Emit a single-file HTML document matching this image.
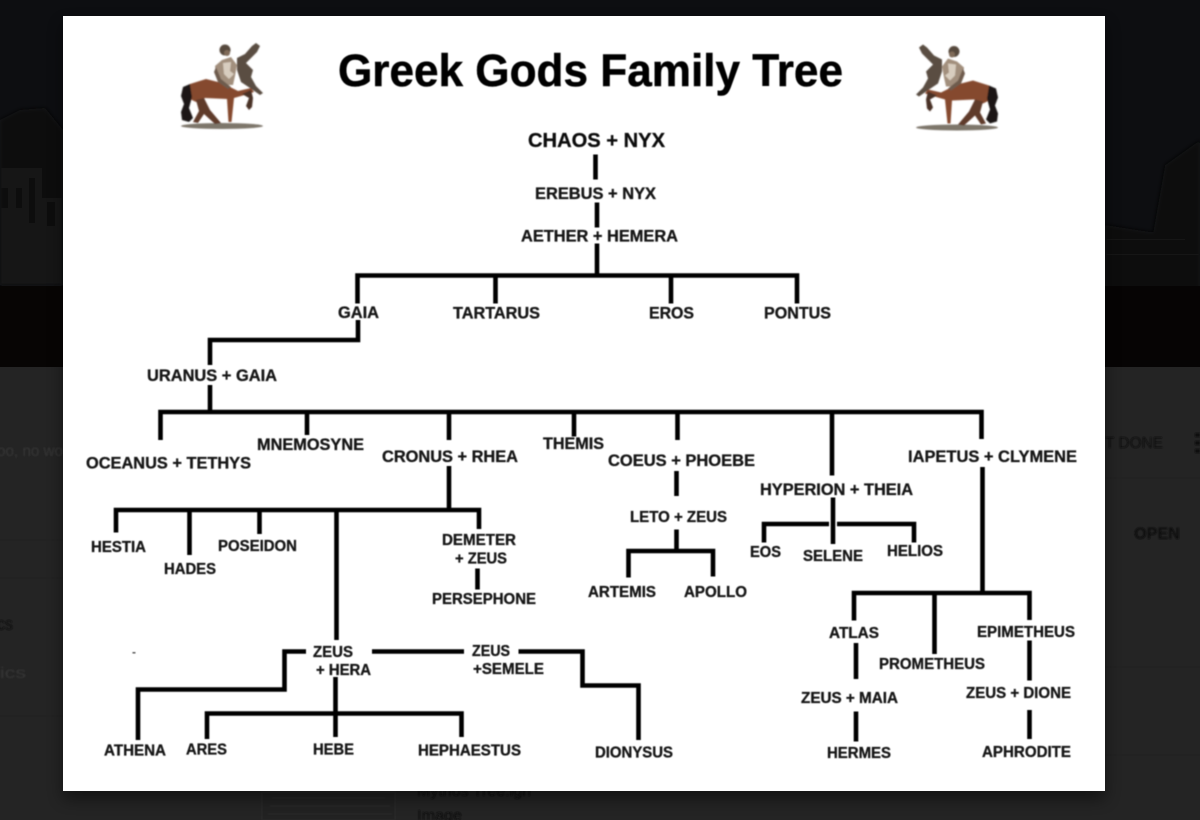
<!DOCTYPE html>
<html>
<head>
<meta charset="utf-8">
<style>
html,body{margin:0;padding:0;background:#232323;}
body{width:1200px;height:820px;overflow:hidden;position:relative;font-family:"Liberation Sans",sans-serif;}
svg{position:absolute;left:0;top:0;display:block;}
</style>
</head>
<body>
<svg width="1200" height="820" viewBox="0 0 1200 820" xmlns="http://www.w3.org/2000/svg">
<defs>
<filter id="b1" x="-5%" y="-5%" width="110%" height="110%"><feGaussianBlur stdDeviation="0.5"/></filter>
<filter id="b2" x="-10%" y="-10%" width="120%" height="120%"><feGaussianBlur stdDeviation="0.8"/></filter>
<filter id="b3" x="-10%" y="-10%" width="120%" height="120%"><feGaussianBlur stdDeviation="2"/></filter>
<filter id="sh" x="-10%" y="-10%" width="120%" height="120%"><feGaussianBlur stdDeviation="8"/></filter>
<g id="centaur">
  <ellipse cx="222" cy="126" rx="41" ry="3" fill="#7d766b"/>
  <path d="M237 58 L245 54 L252 46 L256 43 L260 46 L257 52 L250 59 L246 63 L253 70 L251 77 L256 86 L263 93 L260 95 L250 88 L241 82 L237 70Z" fill="#5a4d42"/>
  <path d="M190 84 L206 79 L222 83 L238 91 L251 88 L254 92 L241 96 L234 98 L231.5 122 L228.5 122 L227 99 L205 98 L196 102 L188 98Z" fill="#85492e"/>
  <path d="M196 100 L204 98 L210 110 L221 123 L215 124 L204 114 L198 123 L193 122 L199 111Z" fill="#5e3a2b"/>
  <path d="M242 94 L251 90 L253 98 L252 107 L249 110 L246 106 L249 98Z" fill="#4a3328"/>
  <path d="M190 84 L183 87 L181 96 L184 104 L181 112 L182 120 L189 122 L193 118 L189 108 L192 97Z" fill="#1d1916"/>
  <path d="M215 66 L222 60 L231 57 L237 65 L235 76 L233 85 L224 85 L217 78Z" fill="#a28f7d"/>
  <path d="M223 63 L231 62 L230 71 L234 74 L229 79 L224 74Z" fill="#d8cdbf"/>
  <path d="M216 67 L221 79 L231 87 L228 89 L218 82 L214 72Z" fill="#6e5b4d"/>
  <circle cx="225" cy="50" r="5.5" fill="#574a3e"/>
  <circle cx="227" cy="53" r="3" fill="#7f6a58"/>
</g>
</defs>

<!-- page background -->
<rect x="0" y="0" width="1200" height="367" fill="#0d0e11"/>
<g filter="url(#b3)">
  <path d="M0 120 L20 110 L45 108 L63 130 L63 285 L0 285Z" fill="#110f0d"/>
  <path d="M0 168 L42 168 L42 198 L63 198 L63 285 L0 285Z" fill="#181613"/>
  <rect x="3" y="188" width="5" height="20" fill="#0c0b09"/>
  <rect x="16" y="188" width="6" height="20" fill="#0c0b09"/>
  <rect x="29" y="178" width="6" height="45" fill="#0c0b09"/>
  <rect x="47" y="202" width="8" height="24" fill="#0c0b09"/>
  <path d="M1105 225 L1200 240 L1200 290 L1105 290Z" fill="#0e0d0c"/>
  <path d="M1150 250 L1165 165 L1200 140 L1200 255Z" fill="#070807"/>
  <rect x="1105" y="238" width="80" height="3" fill="#141413"/>
  <rect x="1105" y="253" width="95" height="3" fill="#151514"/>
</g>
<rect x="0" y="286" width="63" height="81" fill="#070504"/>
<rect x="1105" y="286" width="95" height="81" fill="#060404"/>
<rect x="0" y="367" width="1200" height="453" fill="#242424"/>
<g stroke="#212121" stroke-width="1" fill="none">
  <path d="M0 540 H63 M0 578 H63 M0 716 H63 M1105 478 H1200 M1105 667 H1200 M1105 755 H1200"/>
</g>
<g filter="url(#b2)" font-family="'Liberation Sans',sans-serif">
  <text x="-3" y="456" font-size="16" fill="#353535" textLength="66" lengthAdjust="spacingAndGlyphs">oo, no wo</text>
  <text x="-3" y="630" font-size="18" fill="#0f0f0f" textLength="16" lengthAdjust="spacingAndGlyphs">cs</text>
  <text x="-12" y="678" font-size="16" fill="#353535" textLength="38" lengthAdjust="spacingAndGlyphs">pics</text>
  <text x="1105" y="448" font-size="16" fill="#0d0d0d" textLength="58" lengthAdjust="spacingAndGlyphs">T DONE</text>
  <text x="1134" y="539" font-size="17" font-weight="bold" fill="#0d0d0d" textLength="46" lengthAdjust="spacingAndGlyphs">OPEN</text>
  <text x="417" y="796" font-size="15" fill="#0a0a0a" textLength="114" lengthAdjust="spacingAndGlyphs">Mythos Tree.lgn</text>
  <text x="417" y="820" font-size="15" fill="#0a0a0a" textLength="45" lengthAdjust="spacingAndGlyphs">Image</text>
  <rect x="1195" y="433" width="5" height="4" fill="#111"/>
  <rect x="1195" y="441" width="5" height="4" fill="#111"/>
  <rect x="1195" y="449" width="5" height="4" fill="#111"/>
  <path d="M262 792 H395 V820 H262Z M272 798 H385 M270 806 H390 M268 814 H392" fill="#202020" stroke="#2a2a2a" stroke-width="1"/>
</g>

<!-- modal -->
<rect x="63" y="24" width="1042" height="775" fill="#000" opacity="0.45" filter="url(#sh)"/>
<rect x="63" y="16" width="1042" height="775" fill="#ffffff"/>

<use href="#centaur" filter="url(#b2)"/>
<use href="#centaur" transform="translate(1179 1.5) scale(-1 1)" filter="url(#b2)"/>

<g filter="url(#b1)">
<!-- connectors -->
<g fill="none" stroke="#050505" stroke-width="4.6" stroke-linejoin="miter">
  <path d="M595.5 154.5 V179.5"/>
  <path d="M597 202.5 V227.5"/>
  <path d="M597 243.5 V275"/>
  <path d="M357.5 303.5 V275.5 H797 V303.5"/>
  <path d="M495.5 275.5 V303.5"/>
  <path d="M671 275.5 V303.5"/>
  <path d="M358 320 V340 H210 V365"/>
  <path d="M210 385 V412"/>
  <path d="M160.5 440 V412 H981.5 V439"/>
  <path d="M307 412 V435"/>
  <path d="M449 412 V440"/>
  <path d="M574 412 V436.5"/>
  <path d="M677.5 412 V440"/>
  <path d="M832 412 V475.5"/>
  <path d="M449 466 V510"/>
  <path d="M116 532.5 V510 H479 V529"/>
  <path d="M189.5 510 V555"/>
  <path d="M259.5 510 V534"/>
  <path d="M336.5 510 V640"/>
  <path d="M477.5 568.5 V589.5"/>
  <path d="M676.5 471 V496"/>
  <path d="M676.5 529.5 V551"/>
  <path d="M628.5 577.5 V551 H713 V576.5"/>
  <path d="M833 497.5 V544"/>
  <path d="M764 542.5 V524 H829"/>
  <path d="M837 524 H914 V542.5"/>
  <path d="M982.5 467 V593"/>
  <path d="M854 620.5 V593 H1029.5 V620"/>
  <path d="M934.5 593 V654"/>
  <path d="M856 643 V679"/>
  <path d="M856 711.5 V741.5"/>
  <path d="M1029.5 640.5 V680.5"/>
  <path d="M1029.5 710 V739"/>
  <path d="M306 651.5 H284.5 V689.5 H138 V740"/>
  <path d="M372 651.5 H464"/>
  <path d="M518.5 651.5 H582.5 V685.5 H638.5 V740"/>
  <path d="M335.5 677 V737"/>
  <path d="M207 739 V713.5 H461.5 V737"/>
</g>

<!-- labels -->
<g font-family="'Liberation Sans',Arial,sans-serif" font-weight="bold" fill="#141414" stroke="#141414" stroke-width="0.3" font-size="16.5">
  <text x="338" y="86" font-size="45" fill="#050505" stroke="#050505" stroke-width="0.5" textLength="505" lengthAdjust="spacingAndGlyphs">Greek Gods Family Tree</text>
  <text x="528" y="147" font-size="20.5" fill="#0c0c0c" textLength="137" lengthAdjust="spacingAndGlyphs">CHAOS + NYX</text>
  <text x="535" y="199" textLength="121" lengthAdjust="spacingAndGlyphs">EREBUS + NYX</text>
  <text x="521" y="241.5" textLength="157" lengthAdjust="spacingAndGlyphs">AETHER + HEMERA</text>
  <text x="338" y="318" textLength="41" lengthAdjust="spacingAndGlyphs">GAIA</text>
  <text x="453" y="318.5" textLength="87" lengthAdjust="spacingAndGlyphs">TARTARUS</text>
  <text x="649" y="318.5" textLength="45" lengthAdjust="spacingAndGlyphs">EROS</text>
  <text x="764" y="318.5" textLength="67" lengthAdjust="spacingAndGlyphs">PONTUS</text>
  <text x="147" y="381" textLength="130" lengthAdjust="spacingAndGlyphs">URANUS + GAIA</text>
  <text x="86" y="468.5" font-size="17" textLength="165" lengthAdjust="spacingAndGlyphs">OCEANUS + TETHYS</text>
  <text x="257" y="450" textLength="107" lengthAdjust="spacingAndGlyphs">MNEMOSYNE</text>
  <text x="382" y="462" font-size="17" textLength="136" lengthAdjust="spacingAndGlyphs">CRONUS + RHEA</text>
  <text x="543" y="449" textLength="61" lengthAdjust="spacingAndGlyphs">THEMIS</text>
  <text x="608" y="466" font-size="17" textLength="147" lengthAdjust="spacingAndGlyphs">COEUS + PHOEBE</text>
  <text x="760" y="495" font-size="17" textLength="153" lengthAdjust="spacingAndGlyphs">HYPERION + THEIA</text>
  <text x="908" y="462" font-size="17" textLength="169" lengthAdjust="spacingAndGlyphs">IAPETUS + CLYMENE</text>
  <text x="91" y="552" font-size="15.5" textLength="55" lengthAdjust="spacingAndGlyphs">HESTIA</text>
  <text x="164" y="574" font-size="15.5" textLength="52" lengthAdjust="spacingAndGlyphs">HADES</text>
  <text x="218" y="551" font-size="15.5" textLength="79" lengthAdjust="spacingAndGlyphs">POSEIDON</text>
  <text x="442" y="545" font-size="15.5" textLength="74" lengthAdjust="spacingAndGlyphs">DEMETER</text>
  <text x="455" y="563.5" font-size="15.5" textLength="52" lengthAdjust="spacingAndGlyphs">+ ZEUS</text>
  <text x="432" y="604" font-size="15.5" textLength="104" lengthAdjust="spacingAndGlyphs">PERSEPHONE</text>
  <text x="630" y="522" font-size="15.5" textLength="97" lengthAdjust="spacingAndGlyphs">LETO + ZEUS</text>
  <text x="750" y="557" font-size="15.5" textLength="31" lengthAdjust="spacingAndGlyphs">EOS</text>
  <text x="803" y="561" font-size="15.5" textLength="60" lengthAdjust="spacingAndGlyphs">SELENE</text>
  <text x="887" y="556" font-size="15.5" textLength="56" lengthAdjust="spacingAndGlyphs">HELIOS</text>
  <text x="588" y="597" font-size="15.5" textLength="68" lengthAdjust="spacingAndGlyphs">ARTEMIS</text>
  <text x="684" y="597" font-size="15.5" textLength="63" lengthAdjust="spacingAndGlyphs">APOLLO</text>
  <text x="829" y="638" font-size="15.5" textLength="50" lengthAdjust="spacingAndGlyphs">ATLAS</text>
  <text x="879" y="669" font-size="15.5" textLength="106" lengthAdjust="spacingAndGlyphs">PROMETHEUS</text>
  <text x="977" y="637" font-size="15.5" textLength="98" lengthAdjust="spacingAndGlyphs">EPIMETHEUS</text>
  <text x="801" y="703" font-size="15.5" textLength="97" lengthAdjust="spacingAndGlyphs">ZEUS + MAIA</text>
  <text x="966" y="698" font-size="15.5" textLength="105" lengthAdjust="spacingAndGlyphs">ZEUS + DIONE</text>
  <text x="827" y="758" font-size="15.5" textLength="64" lengthAdjust="spacingAndGlyphs">HERMES</text>
  <text x="982" y="757" font-size="15.5" textLength="89" lengthAdjust="spacingAndGlyphs">APHRODITE</text>
  <text x="595" y="757.5" font-size="15.5" textLength="78" lengthAdjust="spacingAndGlyphs">DIONYSUS</text>
  <text x="313" y="657" font-size="15.5" textLength="40" lengthAdjust="spacingAndGlyphs">ZEUS</text>
  <text x="316" y="675" font-size="15.5" textLength="55" lengthAdjust="spacingAndGlyphs">+ HERA</text>
  <text x="472" y="656" font-size="15.5" textLength="38" lengthAdjust="spacingAndGlyphs">ZEUS</text>
  <text x="473" y="674" font-size="15.5" textLength="71" lengthAdjust="spacingAndGlyphs">+SEMELE</text>
  <text x="104" y="755.5" font-size="15.5" textLength="62" lengthAdjust="spacingAndGlyphs">ATHENA</text>
  <text x="186" y="754.5" font-size="15.5" textLength="41" lengthAdjust="spacingAndGlyphs">ARES</text>
  <text x="313" y="754.5" font-size="15.5" textLength="41" lengthAdjust="spacingAndGlyphs">HEBE</text>
  <text x="418" y="755.5" font-size="15.5" textLength="103" lengthAdjust="spacingAndGlyphs">HEPHAESTUS</text>
  <text x="132" y="656" font-size="12" fill="#555" stroke="none">-</text>
</g>
</g>
</svg>
</body>
</html>
